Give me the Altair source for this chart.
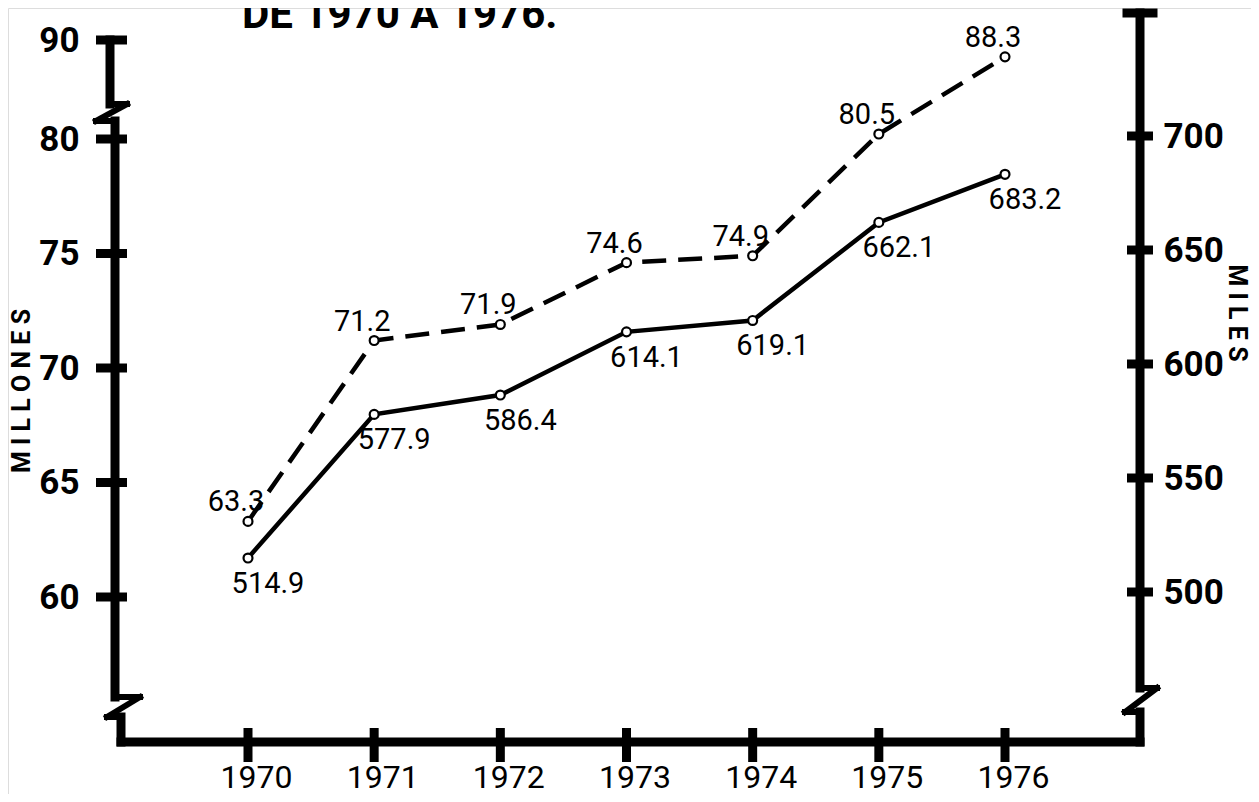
import altair as alt
import pandas as pd

# ---- data ----
years = [1970, 1971, 1972, 1973, 1974, 1975, 1976]
millones = [63.3, 71.2, 71.9, 74.6, 74.9, 80.5, 88.3]
millones_labels = ["63.3", "71.2", "71.9", "74.6", "74.9", "80.5", "88.3"]
miles = [514.9, 577.9, 586.4, 614.1, 619.1, 662.1, 683.2]
miles_labels = ["514.9", "577.9", "586.4", "614.1", "619.1", "662.1", "683.2"]
left_ticks = [60, 65, 70, 75, 80, 90]
right_ticks = [500, 550, 600, 650, 700]
title_text = "DE  1970  A  1976."
left_title = "M I L L O N E S"
right_title = "M I L E S"

W, H = 1243, 786
ROBOTO = "Roboto"

df_m = pd.DataFrame({"year": years, "value": millones, "label": millones_labels})
df_k = pd.DataFrame({"year": years, "value": miles, "label": miles_labels})
df_lt = pd.DataFrame({"v": left_ticks})
df_rt = pd.DataFrame({"v": right_ticks})
df_years = pd.DataFrame({"year": years})
one = pd.DataFrame({"a": [0]})

xs = alt.Scale(domain=[1970, 1976], range=[240, 997], nice=False, zero=False)
yl = alt.Scale(domain=[60, 80, 90], range=[589, 131, 32], nice=False, zero=False)
yr = alt.Scale(domain=[500, 700], range=[584, 128], nice=False, zero=False)

x_axis = alt.Axis(orient="bottom", offset=-52, values=years, format="d",
                  domain=False, ticks=False, tickSize=0, grid=False,
                  labelPadding=20, labelFont=ROBOTO, labelFontSize=32,
                  labelBaseline="top",
                  labelColor="black", labelOffset=8, labelFlush=False,
                  labelOverlap=False, title=None)
left_axis = alt.Axis(orient="left", offset=-107, values=left_ticks,
                     domain=False, ticks=False, tickSize=0, grid=False,
                     labelPadding=36, labelFont=ROBOTO, labelFontSize=35,
                     labelFontWeight="bold", labelColor="black",
                     labelOverlap=False, labelFlush=False, title=None)
right_axis = alt.Axis(orient="right", offset=-111, values=right_ticks,
                      domain=False, ticks=False, tickSize=0, grid=False,
                      labelPadding=23, labelFont=ROBOTO, labelFontSize=35,
                      labelFontWeight="bold", labelColor="black",
                      labelOverlap=False, labelFlush=False, title=None)

X = alt.X("year:Q", scale=xs, axis=x_axis)

# dashed series (millones, left axis)
line_m = alt.Chart(df_m).mark_line(color="black", strokeWidth=4.5,
                                   strokeDash=[24, 12]).encode(
    x=X, y=alt.Y("value:Q", scale=yl, axis=left_axis))
pts_m = alt.Chart(df_m).mark_point(shape="circle", filled=True, fill="white",
                                   stroke="black", strokeWidth=2.2, size=80,
                                   opacity=1).encode(
    x=X, y=alt.Y("value:Q", scale=yl, axis=None))
txt_m = alt.Chart(df_m).mark_text(font=ROBOTO, fontSize=29, color="black",
                                  dx=-12, dy=-19).encode(
    x=X, y=alt.Y("value:Q", scale=yl, axis=None), text="label:N")

# solid series (miles, right axis)
line_k = alt.Chart(df_k).mark_line(color="black", strokeWidth=4.5).encode(
    x=X, y=alt.Y("value:Q", scale=yr, axis=right_axis))
pts_k = alt.Chart(df_k).mark_point(shape="circle", filled=True, fill="white",
                                   stroke="black", strokeWidth=2.2, size=80,
                                   opacity=1).encode(
    x=X, y=alt.Y("value:Q", scale=yr, axis=None))
txt_k = alt.Chart(df_k).mark_text(font=ROBOTO, fontSize=29, color="black",
                                  dx=20, dy=26).encode(
    x=X, y=alt.Y("value:Q", scale=yr, axis=None), text="label:N")

# crossing tick marks through the scales
ticks_l = alt.Chart(df_lt).mark_rule(color="black", strokeWidth=9).encode(
    y=alt.Y("v:Q", scale=yl, axis=None), x=alt.value(88), x2=alt.value(119))
ticks_r = alt.Chart(df_rt).mark_rule(color="black", strokeWidth=9).encode(
    y=alt.Y("v:Q", scale=yr, axis=None), x=alt.value(1119), x2=alt.value(1145))
ticks_x = alt.Chart(df_years).mark_rule(color="black", strokeWidth=9).encode(
    x=X, y=alt.value(720), y2=alt.value(754))


def seg(x1, y1, x2, y2, w=9):
    # page coordinates -> chart coordinates (8px page margin)
    return alt.Chart(one).mark_rule(color="black", strokeWidth=w,
                                    strokeCap="square").encode(
        x=alt.value(x1 - 8), y=alt.value(y1 - 8),
        x2=alt.value(x2 - 8), y2=alt.value(y2 - 8))


frame = [
    # left axis with two breaks
    seg(110, 40, 110, 104),
    seg(110, 104, 127, 104, 6), seg(127, 104, 96, 121, 6), seg(96, 121, 115, 121, 6),
    seg(115, 121, 115, 697),
    seg(115, 697, 140, 697, 6), seg(140, 697, 107, 717, 6), seg(107, 717, 121, 717, 6),
    seg(121, 717, 121, 742),
    # bottom axis
    seg(121, 742, 1140, 742),
    # right axis with top cap and a break
    seg(1127, 13, 1153, 13),
    seg(1140, 13, 1140, 688),
    seg(1140, 688, 1157, 688, 6), seg(1157, 688, 1125, 712, 6), seg(1125, 712, 1140, 712, 6),
    seg(1140, 712, 1140, 742),
]

title = alt.Chart(one).mark_text(font=ROBOTO, fontSize=42, fontWeight="bold",
                                 align="left", baseline="alphabetic",
                                 color="black").encode(
    x=alt.value(234), y=alt.value(20), text=alt.value(title_text))
ltitle = alt.Chart(one).mark_text(font=ROBOTO, fontSize=25, fontWeight="bold",
                                  angle=270, color="black").encode(
    x=alt.value(14), y=alt.value(383), text=alt.value(left_title))
rtitle = alt.Chart(one).mark_text(font=ROBOTO, fontSize=25, fontWeight="bold",
                                  angle=90, color="black").encode(
    x=alt.value(1229), y=alt.value(305), text=alt.value(right_title))

chart = alt.layer(
    line_m, line_k, pts_m, pts_k, txt_m, txt_k, ticks_l, ticks_r, ticks_x,
    *frame, title, ltitle, rtitle
).resolve_scale(y="independent").properties(
    width=W, height=H, padding=0,
    autosize=alt.AutoSizeParams(type="none"),
).configure_view(strokeWidth=0).configure(background="white")

chart.save("out.html", embed_options={"renderer": "svg", "actions": False})
